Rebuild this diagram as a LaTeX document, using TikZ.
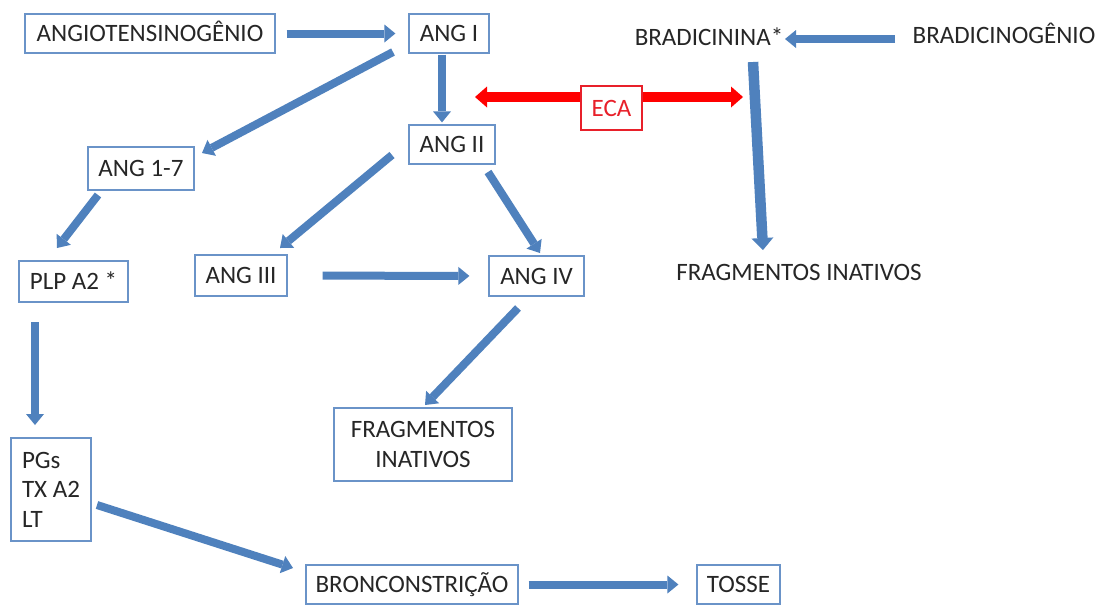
\documentclass[tikz,border=0pt]{standalone}
\usepackage{fontspec}
\setmainfont{Carlito}
\usetikzlibrary{arrows.meta}
\definecolor{arrblue}{HTML}{4F81BD}
\definecolor{boxblue}{HTML}{6A93C8}
\definecolor{txt}{HTML}{262626}
\definecolor{ecared}{HTML}{E8202A}
\begin{document}
\begin{tikzpicture}[x=1pt,y=-1pt,
  every node/.style={font=\fontsize{25}{29.5}\selectfont, text=txt},
  box/.style={draw=boxblue, line width=1.2pt, fill=white, inner sep=0pt},
  capline/.style={text height=16pt, text depth=0pt},
  blk/.style={draw=arrblue, line width=8pt, -{Triangle[width=18pt,length=11pt,line width=0pt]}},
  blkwide/.style={draw=arrblue, line width=10.5pt, -{Triangle[width=22pt,length=12pt,line width=0pt]}},
  ecaarr/.style={draw=red, line width=10pt,
    {Triangle[width=21pt,length=12pt,line width=0pt]}-{Triangle[width=21pt,length=12pt,line width=0pt]}},
]
\useasboundingbox (0,0) rectangle (1107,606);
\fill[white] (0,0) rectangle (1107,606);

% nodes
\node[box,capline,minimum width=250pt,minimum height=39pt] (angio) at (150,33.5) {ANGIOTENSINOGÊNIO};
\node[box,capline,minimum width=80pt,minimum height=39pt] (ang1) at (449,33.5) {ANG I};
\node[box,capline,minimum width=86pt,minimum height=39pt] (ang2) at (452,144.5) {ANG II};
\node[box,capline,minimum width=106pt,minimum height=43pt] (ang17) at (141,168.5) {ANG 1-7};
\node[box,capline,minimum width=109pt,minimum height=41pt] (plp) at (73.5,281.5) {PLP A2 *};
\node[box,capline,minimum width=92pt,minimum height=41pt] (ang3) at (241,275.5) {ANG III};
\node[box,capline,minimum width=95pt,minimum height=40pt] (ang4) at (536.5,276) {ANG IV};
\node[box,minimum width=178pt,minimum height=73pt,align=center] (fragM) at (423,444.5) {FRAGMENTOS\\INATIVOS};
\node[box,minimum width=80pt,minimum height=103pt,align=left] (pgs) at (51,489.5) {PGs\\TX A2\\LT};
\node[box,capline,minimum width=212pt,minimum height=39pt] (bronc) at (412,584.5) {BRONCONSTRIÇÃO};
\node[box,capline,minimum width=83pt,minimum height=39pt] (tosse) at (738.5,584.5) {TOSSE};
\node[capline,inner sep=0pt] (brad) at (709,37) {BRADICININA*};
\node[capline,inner sep=0pt] (bradg) at (1004,35) {BRADICINOGÊNIO};
\node[capline,inner sep=0pt] (fragR) at (799,272) {FRAGMENTOS INATIVOS};

% red ECA double arrow
\coordinate (ecaL) at (475,97);
\coordinate (ecaR) at (743,97);
\draw[ecaarr] (ecaL) -- (ecaR);
\node[box,draw=ecared,text=ecared,capline,minimum width=61pt,minimum height=44pt] (eca) at (611.5,108) {ECA};

% blue arrows
\draw[blk,shorten <=11pt,shorten >=13pt] (angio.east) -- (ang1.west);
\draw[blk,shorten <=1pt,shorten >=2pt] ([xshift=-7pt]ang1.south) -- ([xshift=-10pt]ang2.north);
\draw[blk] ([shift={(-56,18.5)}]ang1.center) -- ([shift={(61,-15.5)}]ang17.center);
\draw[blk] ([shift={(-60,10.5)}]ang2.center) -- ([shift={(39,-27.5)}]ang3.center);
\draw[blk] ([shift={(36,27.5)}]ang2.center) -- ([shift={(3.5,-23)}]ang4.center);
\draw[blk,shorten <=35pt,shorten >=19pt] (ang3.east) -- (ang4.west);
\draw[blk] ([shift={(-43,26.5)}]ang17.center) -- ([shift={(-16.5,-33.5)}]plp.center);
\draw[blk] ([shift={(-38.5,40.5)}]plp.center) -- ([shift={(-16,-64.5)}]pgs.center);
\draw[blk] ([shift={(-18.5,32)}]ang4.center) -- ([shift={(2,-39.5)}]fragM.center);
\draw[blk] ([shift={(46,15.5)}]pgs.center) -- ([shift={(-119,-16.5)}]bronc.center);
\draw[blk,shorten <=10pt,shorten >=18pt] (bronc.east) -- (tosse.west);
\draw[blk] ([shift={(-109,4)}]bradg.center) -- ([shift={(76,2)}]brad.center);
\draw[blkwide] ([shift={(44,25)}]brad.center) -- ([shift={(-36,-22)}]fragR.center);
\end{tikzpicture}
\end{document}
